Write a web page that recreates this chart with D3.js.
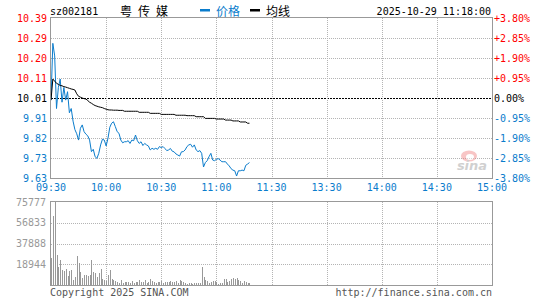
<!DOCTYPE html>
<html><head><meta charset="utf-8">
<script src="https://cdn.jsdelivr.net/npm/d3@7/dist/d3.min.js"></script>
<style>
html,body{margin:0;padding:0;background:#fff;}
svg{display:block;}
text{font-family:"DejaVu Sans Mono","Liberation Mono",monospace;font-size:10px;}
.cjk{font-family:"Noto Sans CJK SC","Noto Sans",sans-serif;font-size:12px;}
</style></head>
<body>
<script>
// ---- data ----
const code = "sz002181";
const nameChars = ["粤","传","媒"];
const legendLabels = ["价格","均线"];
const stamp = "2025-10-29 11:18:00";
const prevClose = 10.01;
const pctTicks = [3.80, 2.85, 1.90, 0.95, 0, -0.95, -1.90, -2.85, -3.80];
const priceTickLabels = ["10.39","10.29","10.20","10.11","10.01","9.91","9.82","9.73","9.63"];
const pctTickLabels = ["+3.80%","+2.85%","+1.90%","+0.95%","0.00%","-0.95%","-1.90%","-2.85%","-3.80%"];
const timeTickLabels = ["09:30","10:00","10:30","11:00","11:30","13:30","14:00","14:30","15:00"];
const timeTickIndex = [0,30,60,90,120,150,180,210,240];
const volTicks = [75777, 56833, 37888, 18944];
const volMax = 75777;
// per-minute price from 09:30 to 11:18
const price = [10.00,10.27,10.21,9.96,10.06,10.10,9.99,10.06,10.00,10.04,
9.94,9.96,9.90,9.86,9.84,9.81,9.866,9.882,9.85,9.838,
9.83,9.81,9.755,9.766,9.731,9.723,9.747,9.787,9.814,9.81,
9.782,9.818,9.871,9.89,9.897,9.874,9.85,9.842,9.81,9.797,
9.802,9.802,9.807,9.794,9.81,9.807,9.834,9.807,9.794,9.802,
9.784,9.794,9.787,9.782,9.763,9.771,9.766,9.771,9.766,9.779,
9.774,9.779,9.770,9.760,9.763,9.770,9.757,9.754,9.744,9.739,
9.734,9.754,9.755,9.763,9.779,9.787,9.79,9.776,9.787,9.763,
9.755,9.76,9.747,9.682,9.703,9.712,9.731,9.747,9.715,9.712,
9.718,9.722,9.715,9.707,9.707,9.707,9.696,9.687,9.674,9.667,
9.664,9.639,9.664,9.664,9.667,9.664,9.69,9.696,9.703];
// per-minute average price
const avgPrice = [10.00,10.10,10.09,10.08,10.075,10.07,10.068,10.064,10.062,10.059,
10.056,10.053,10.051,10.048,10.03,10.018,10.014,10.01,10.007,10.005,
9.998,9.99,9.985,9.979,9.974,9.971,9.968,9.966,9.964,9.96,
9.957,9.954,9.953,9.953,9.952,9.952,9.952,9.951,9.951,9.951,
9.947,9.947,9.947,9.947,9.947,9.947,9.947,9.947,9.942,9.942,
9.942,9.942,9.942,9.942,9.937,9.937,9.937,9.937,9.937,9.937,
9.932,9.932,9.932,9.932,9.932,9.932,9.932,9.932,9.928,9.928,
9.928,9.928,9.928,9.928,9.926,9.926,9.926,9.926,9.926,9.921,
9.921,9.921,9.921,9.921,9.913,9.913,9.913,9.913,9.913,9.913,
9.910,9.910,9.910,9.910,9.910,9.905,9.905,9.905,9.905,9.901,
9.901,9.901,9.901,9.896,9.896,9.896,9.896,9.890,9.890];
// per-minute volume
const volume = [24300,63000,75777,27300,16700,22700,13600,12700,14500,8200,
12700,13600,4500,7300,26400,20000,11800,6400,8800,8800,
8200,8800,22700,11800,10900,7300,10900,14500,5500,4500,
3600,9100,13600,5500,4500,3600,2700,2100,4200,2100,
2700,2700,2700,1500,3300,1500,2400,3000,4200,2400,
2400,4200,1500,2700,5500,3600,3000,1800,2700,2700,
3600,1500,2400,2700,2400,3600,2700,2400,3300,1500,
4500,3600,2400,1500,900,1800,1800,900,1800,1500,
1500,1500,16400,7300,4500,3600,1800,2700,3600,3600,
2700,900,1800,1800,5500,5500,2700,3600,5500,6400,
5500,6400,4500,3600,1800,3600,2700,1800,1500];

// ---- drawing ----
const W = 545, H = 300;
const L = 51, R = 492, PT = 18, PB = 178, VT = 202, VB = 285;
const RED = "#ff0000", BLUE = "#0a7ccc", GRAY = "#999", GRID = "#b4b4b4";

const svg = d3.select("body").append("svg").attr("width", W).attr("height", H);

const x = d3.scaleLinear().domain([0, 240]).range([L, R]);
const yP = d3.scaleLinear().domain([prevClose*(1-0.038), prevClose*(1+0.038)]).range([PB, PT]);
const yV = d3.scaleLinear().domain([0, volMax]).range([VB, VT]);

// grids price
const gp = svg.append("g");
pctTicks.forEach((p, i) => {
  if (i === 0 || i === pctTicks.length - 1) return;
  const yy = Math.round(yP(prevClose*(1+p/100))) + 0.5;
  gp.append("line").attr("x1", L).attr("x2", R).attr("y1", yy).attr("y2", yy)
    .attr("stroke", p === 0 ? "#000" : GRID).attr("stroke-dasharray", p === 0 ? "2,1" : "1,1");
});
timeTickIndex.forEach((t, i) => {
  if (i === 0 || i === timeTickIndex.length - 1) return;
  const xx = Math.round(x(t)) + 0.5;
  gp.append("line").attr("x1", xx).attr("x2", xx).attr("y1", PT).attr("y2", PB)
    .attr("stroke", GRID).attr("stroke-dasharray", "1,1");
  gp.append("line").attr("x1", xx).attr("x2", xx).attr("y1", VT).attr("y2", VB)
    .attr("stroke", GRID).attr("stroke-dasharray", "1,1");
});
volTicks.forEach((v, i) => {
  if (i === 0) return;
  const yy = Math.round(yV(v)) + 0.5;
  gp.append("line").attr("x1", L).attr("x2", R).attr("y1", yy).attr("y2", yy)
    .attr("stroke", GRID).attr("stroke-dasharray", "1,1");
});

// sina watermark
const wm = svg.append("g").attr("opacity", 0.45);
wm.append("ellipse").attr("cx", 469).attr("cy", 156).attr("rx", 8).attr("ry", 5.5).attr("fill", "#f08080");
wm.append("ellipse").attr("cx", 470).attr("cy", 157).attr("rx", 4).attr("ry", 3).attr("fill", "#fff");
wm.append("text").attr("x", 472).attr("y", 170).attr("text-anchor", "middle")
  .style("font-family", "DejaVu Sans").style("font-size", "13px").style("font-weight", "bold")
  .style("font-style", "italic").attr("fill", "#999").text("sina");

// volume bars
svg.append("g").selectAll("rect").data(volume).join("rect")
  .attr("x", (d, i) => Math.round(x(i)))
  .attr("width", 1)
  .attr("y", d => yV(d))
  .attr("height", d => VB - yV(d))
  .attr("fill", "#999")
  .attr("shape-rendering", "crispEdges");

// lines
const line = d3.line().x((d, i) => x(i)).y(d => yP(d));
svg.append("path").datum(price).attr("d", line).attr("fill", "none").attr("stroke", BLUE).attr("stroke-width", 1);
svg.append("path").datum(avgPrice).attr("d", line).attr("fill", "none").attr("stroke", "#000").attr("stroke-width", 1);

// frames
svg.append("rect").attr("x", L - 0.5).attr("y", PT - 0.5).attr("width", R - L + 1).attr("height", PB - PT + 1)
  .attr("fill", "none").attr("stroke", GRAY);
svg.append("rect").attr("x", L - 0.5).attr("y", VT - 0.5).attr("width", R - L + 1).attr("height", VB - VT + 1)
  .attr("fill", "none").attr("stroke", GRAY);

// price labels
pctTicks.forEach((p, i) => {
  const yy = yP(prevClose*(1+p/100));
  const c = p > 0 ? RED : (p < 0 ? BLUE : "#000");
  svg.append("text").attr("x", 47).attr("y", yy + 3.5).attr("text-anchor", "end").attr("fill", c).text(priceTickLabels[i]);
  svg.append("text").attr("x", 494).attr("y", yy + 3.5).attr("text-anchor", "start").attr("fill", c).text(pctTickLabels[i]);
});
// time labels
timeTickIndex.forEach((t, i) => {
  svg.append("text").attr("x", x(t)).attr("y", 191).attr("text-anchor", "middle").attr("fill", BLUE).text(timeTickLabels[i]);
});
// volume labels
volTicks.forEach(v => {
  svg.append("text").attr("x", 46).attr("y", yV(v) + 3.5).attr("text-anchor", "end").attr("fill", GRAY).text(v);
});

// header
svg.append("text").attr("x", 50).attr("y", 15).attr("fill", "#000").text(code);
nameChars.forEach((c, i) => {
  svg.append("text").attr("class", "cjk").attr("x", 120 + i * 18).attr("y", 15.5).attr("fill", "#000").text(c);
});
svg.append("rect").attr("x", 200).attr("y", 9).attr("width", 10).attr("height", 2.5).attr("fill", BLUE);
svg.append("text").attr("class", "cjk").attr("x", 216).attr("y", 15.5).attr("fill", BLUE).text(legendLabels[0]);
svg.append("rect").attr("x", 250).attr("y", 9).attr("width", 10).attr("height", 2.5).attr("fill", "#000");
svg.append("text").attr("class", "cjk").attr("x", 266).attr("y", 15.5).attr("fill", "#000").text(legendLabels[1]);
svg.append("text").attr("x", 491).attr("y", 15).attr("text-anchor", "end").attr("fill", "#000").text(stamp);

// footer
svg.append("text").attr("x", 50).attr("y", 296).attr("fill", "#555").text("Copyright 2025 SINA.COM");
svg.append("text").attr("x", 492).attr("y", 296).attr("text-anchor", "end").attr("fill", "#555").text("http://finance.sina.com.cn");
</script>
</body></html>
